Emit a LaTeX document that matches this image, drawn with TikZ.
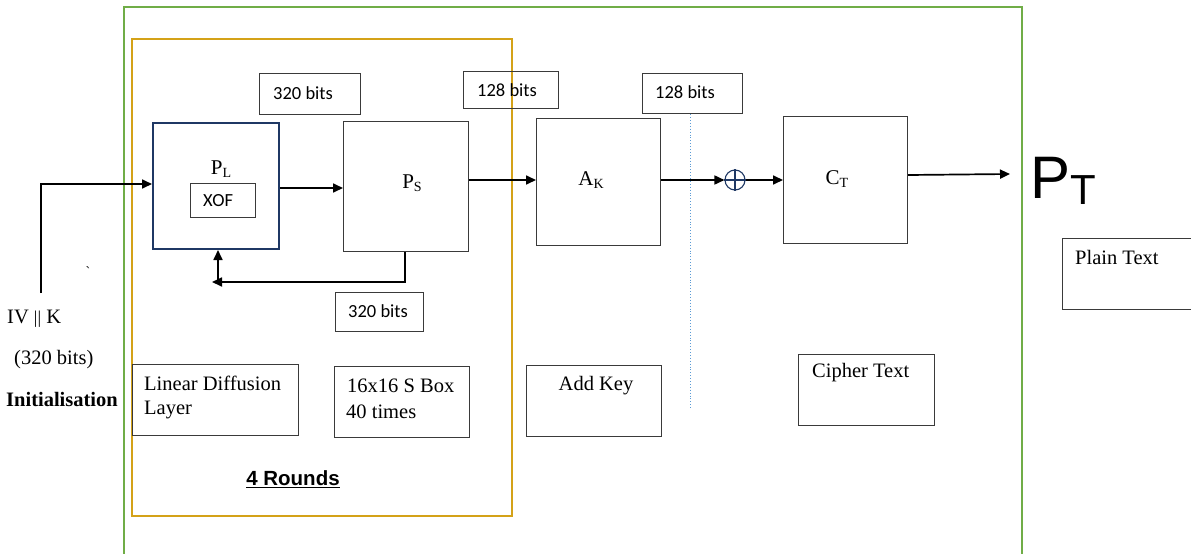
\documentclass[tikz,border=0pt]{standalone}
\usepackage{fontspec}
\setmainfont{Liberation Serif}
\newfontfamily\calfont{Carlito}
\newfontfamily\arialfont{Liberation Sans}
\usetikzlibrary{arrows.meta}
\definecolor{grn}{HTML}{70AD47}
\definecolor{gold}{HTML}{D4A218}
\definecolor{navy}{HTML}{1F3864}
\definecolor{dotblue}{HTML}{5B9BD5}
\definecolor{boxgray}{HTML}{3A3A3A}
\newcommand\sbx[1]{\raisebox{-0.3ex}{\fontsize{14}{14}\selectfont #1}}
\tikzset{
  x=1pt,y=-1pt,
  box/.style={draw=boxgray,line width=1.2pt,anchor=north west,inner sep=0pt},
  ser/.style={font=\fontsize{20.5}{24}\selectfont,inner sep=0pt},
  lbl/.style={font=\fontsize{21}{24}\selectfont,inner sep=0pt},
  cal/.style={font=\calfont\fontsize{18.5}{21}\selectfont,inner sep=0pt},
  arr/.style={line width=1.7pt,-{Triangle[length=10pt,width=9pt]}},
  ln/.style={line width=1.7pt}
}
\begin{document}
\begin{tikzpicture}
\useasboundingbox (0,0) rectangle (1191,554);
\clip (0,0) rectangle (1191,554);
% outer green frame
\draw[grn,line width=2pt] (124,570) -- (124,7) -- (1022,7) -- (1022,570);
% gold rounds frame
\draw[gold,line width=2.2pt] (132,39) rectangle (512,516);
% main boxes
\node[draw=navy,line width=2pt,anchor=north west,minimum width=126,minimum height=126,inner sep=0pt] (pl) at (152,122) {};
\node[box,minimum width=65,minimum height=34] (xof) at (190,183) {};
\node[box,minimum width=125,minimum height=130] (ps) at (343,121) {};
\node[box,minimum width=124,minimum height=127] (ak) at (536,118) {};
\node[box,minimum width=124,minimum height=127] (ct) at (783,116) {};
% bit labels
\node[box,minimum width=101,minimum height=41] (b1) at (259,73) {};
\node[box,minimum width=95,minimum height=37] (b2) at (463,71) {};
\node[box,minimum width=100,minimum height=40] (b3) at (642,73) {};
\node[box,minimum width=88,minimum height=39] (b4) at (335,292) {};
% description boxes
\node[box,minimum width=166,minimum height=71] (ldl) at (132,364) {};
\node[box,minimum width=135,minimum height=71] (sb) at (334,366) {};
\node[box,minimum width=135,minimum height=71] (adk) at (526,365) {};
\node[box,minimum width=136,minimum height=71] (cip) at (798,354) {};
\node[box,minimum width=140,minimum height=71] (pln) at (1062,238) {};
% texts
\node[lbl] (tpl) at (221,169) {P\sbx{L}};
\node[cal,anchor=west] (txof) at (203,201) {XOF};
\node[lbl] (tps) at (412,183) {P\sbx{S}};
\node[lbl] (tak) at (591,180) {A\sbx{K}};
\node[lbl] (tct) at (837,179) {C\sbx{T}};
\node[cal,anchor=west] (tb1) at (273,93) {320 bits};
\node[cal,anchor=west] (tb2) at (477,90) {128 bits};
\node[cal,anchor=west] (tb3) at (655,92) {128 bits};
\node[cal,anchor=west] (tb4) at (348,311) {320 bits};
\node[ser,anchor=west] (tldl1) at (144,383) {Linear Diffusion};
\node[ser,anchor=west] (tldl2) at (144,410) {Layer};
\node[ser,anchor=west] (tsb1) at (347,386) {16x16 S Box};
\node[ser,anchor=west] (tsb2) at (346,412) {40 times};
\node[ser] (tadk) at (596,386) {Add Key};
\node[ser,anchor=west] (tcip) at (812,373) {Cipher Text};
\node[ser,anchor=west] (tpln) at (1075,257) {Plain Text};
\node[ser,anchor=west] (tiv) at (7,319) {IV {\fontsize{18}{18}\selectfont||} K};
\node[ser,anchor=west] (t320) at (14,360) {(320 bits)};
\node[ser,anchor=west,font=\bfseries\fontsize{20.5}{24}\selectfont] (tini) at (6,399) {Initialisation};
\node[inner sep=0pt,font=\arialfont\bfseries\fontsize{20.5}{24}\selectfont] (trounds) at (293,479) {\underline{4 Rounds}};
\node[inner sep=0pt,font=\fontsize{14}{14}\selectfont] (tick) at (88,272) {\textasciigrave};
\node[inner sep=0pt,anchor=base west,font=\arialfont\fontsize{60}{60}\selectfont] (tpt) at (1030,198) {P\raisebox{-6pt}{\fontsize{42}{42}\selectfont T}};
% xor
\node[draw=navy,circle,minimum size=20,inner sep=0pt,line width=1.1pt] (xr) at (735,180) {};
\draw[navy,line width=1.1pt] (xr.north) -- (xr.south) (xr.west) -- (xr.east);
% dotted blue line
\draw[dotblue,line width=0.9pt,dotted] (b3.south -| 690,0) -- (690,408);
% connectors
\coordinate (in0) at (41,293);
\draw[arr] (in0) |- (pl.west |- 0,184);
\draw[arr] (pl.east |- 0,188) -- (ps.west |- 0,188);
\draw[arr] (ps.east |- 0,180) -- (ak.west |- 0,180);
\draw[arr] (ak.east |- 0,180) -- (xr.west);
\draw[arr] (xr.east) -- (ct.west |- xr.east);
\coordinate (outend) at (1010,174);
\draw[arr] (ct.east |- 0,175) -- (outend);
\coordinate (fbc) at (405,282);
\coordinate (fbl) at (212,282);
\draw[arr] (ps.south -| fbc) -- (fbc) -- (fbl);
\draw[arr] (218,282) -- (pl.south -| 218,0);
\end{tikzpicture}
\end{document}
